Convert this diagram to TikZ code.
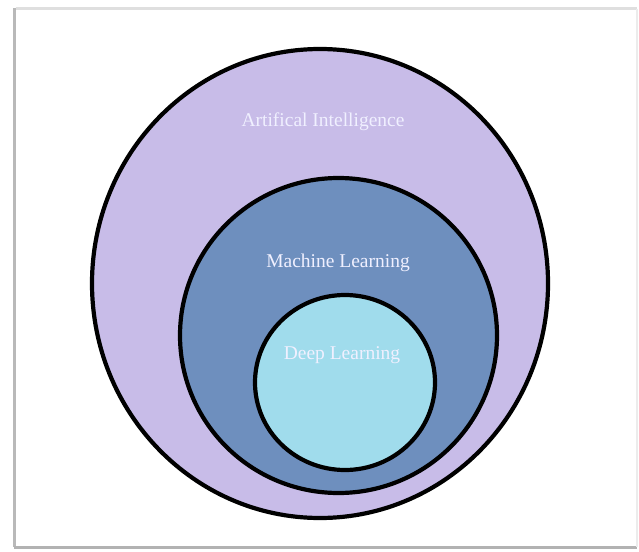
\documentclass[tikz,border=0pt]{standalone}
\usepackage{fontspec}
\setmainfont{Liberation Serif}
\begin{document}
\begin{tikzpicture}[x=1pt,y=-1pt,
  ring/.style={draw=black, line width=4.2pt},
  label/.style={text=white!94!blue, font=\fontsize{19.5}{22}\selectfont, inner sep=0pt}]
  \useasboundingbox (0,0) rectangle (639,551);
  % page frame with a soft shadow
  \fill[white] (0,0) rectangle (639,551);
  \draw[gray!25, line width=3pt] (16,9) -- (637,9);
  \draw[gray!55, line width=3pt] (14,8) -- (14,547);
  \draw[gray!60, line width=3pt] (14,547) -- (637,547);
  \draw[gray!15, line width=1.5pt] (637,9) -- (637,547);
  % nested sets
  \draw[ring, fill={rgb,255:red,200;green,188;blue,232}] (320,283.5) ellipse [x radius=228, y radius=234.5];
  \draw[ring, fill={rgb,255:red,110;green,143;blue,190}] (338.5,335.5) ellipse [x radius=158.5, y radius=157.5];
  \draw[ring, fill={rgb,255:red,160;green,220;blue,236}] (345,382.5) ellipse [x radius=90, y radius=87.5];
  \node[label] (ai) at (323,122) {Artifical Intelligence};
  \node[label] (ml) at (338,263) {Machine Learning};
  \node[label] (dl) at (342,355) {Deep Learning};
\end{tikzpicture}
\end{document}
